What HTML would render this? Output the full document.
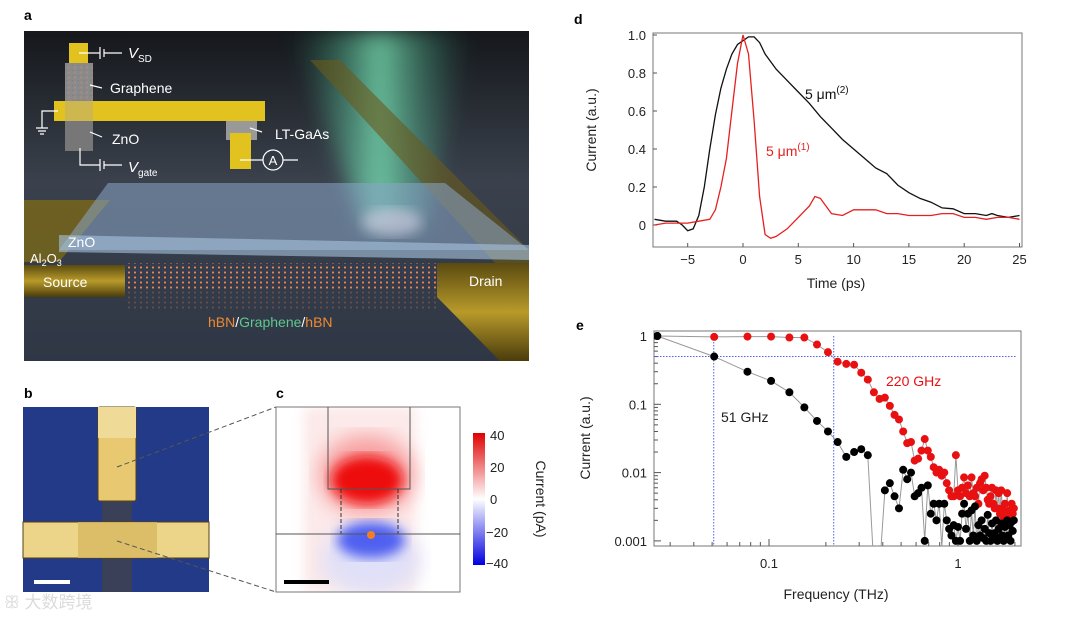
<!DOCTYPE html>
<html><head><meta charset="utf-8"><style>
html,body{margin:0;padding:0;background:#fff;}
svg{display:block;font-family:"Liberation Sans","Noto Sans CJK SC",sans-serif;}
</style></head><body>
<svg id="fig" width="1080" height="618" viewBox="0 0 1080 618" xmlns="http://www.w3.org/2000/svg">
<defs>
<linearGradient id="bgA" x1="0" y1="0" x2="0" y2="1"><stop offset="0" stop-color="#15171b"/><stop offset="0.45" stop-color="#3a414c"/><stop offset="1" stop-color="#2f3746"/></linearGradient>
<linearGradient id="beam" x1="0" y1="0" x2="1" y2="0"><stop offset="0" stop-color="#2e8a6a" stop-opacity="0"/><stop offset="0.5" stop-color="#7ff0c0" stop-opacity="0.75"/><stop offset="1" stop-color="#2e8a6a" stop-opacity="0"/></linearGradient>
<linearGradient id="gold" x1="0" y1="0" x2="0" y2="1"><stop offset="0" stop-color="#5a4a10"/><stop offset="0.5" stop-color="#b89a2a"/><stop offset="1" stop-color="#4a3c0c"/></linearGradient>
<filter id="blur6"><feGaussianBlur stdDeviation="6"/></filter>
<filter id="blur10"><feGaussianBlur stdDeviation="10"/></filter>
<filter id="blur3"><feGaussianBlur stdDeviation="3"/></filter>
<linearGradient id="cbar" x1="0" y1="0" x2="0" y2="1"><stop offset="0" stop-color="#e00000"/><stop offset="0.5" stop-color="#ffffff"/><stop offset="1" stop-color="#0000e0"/></linearGradient>
<clipPath id="clipA"><rect x="24" y="31" width="505" height="330"/></clipPath>
<clipPath id="clipC"><rect x="276" y="407" width="184" height="185"/></clipPath>
<clipPath id="clipD"><rect x="653" y="33" width="369" height="214"/></clipPath>
<clipPath id="clipE"><rect x="654" y="331" width="367" height="215"/></clipPath>
<pattern id="hex" width="6" height="5" patternUnits="userSpaceOnUse"><circle cx="3" cy="2.5" r="1.1" fill="#ff8c50"/><circle cx="0" cy="0" r="1" fill="#3040d0"/></pattern>
</defs>

<!-- Panel a -->
<g>
<text x="24" y="20" font-size="14" font-weight="bold">a</text>
<g clip-path="url(#clipA)">
<rect x="24" y="31" width="505" height="330" fill="url(#bgA)"/>
<polygon points="290,31 470,31 425,230 365,230" fill="url(#beam)" filter="url(#blur10)"/>
<polygon points="310,60 340,60 529,250 529,300" fill="#6a5a1a" opacity="0.6"/>
<polygon points="24,200 110,200 59,262 24,262" fill="#7a6818" opacity="0.8"/>
<polygon points="108,183 445,183 529,250 59,250" fill="#8aa6c8" opacity="0.55"/>
<polygon points="59,235 529,245 529,260 59,252" fill="#a8c4e0" opacity="0.6"/>
<ellipse cx="392" cy="222" rx="30" ry="14" fill="#e8d8f0" opacity="0.5" filter="url(#blur6)"/>
<rect x="24" y="265" width="101" height="32" fill="url(#gold)"/>
<polygon points="437,263 529,263 529,361 500,361 437,297" fill="url(#gold)"/>
<rect x="125" y="263" width="315" height="27" fill="url(#hex)" opacity="0.9"/>
<rect x="125" y="290" width="315" height="20" fill="url(#hex)" opacity="0.25"/>
<text x="43" y="287" font-size="14" fill="#fff">Source</text>
<text x="469" y="286" font-size="14" fill="#fff">Drain</text>
<text x="68" y="247" font-size="14" fill="#fff">ZnO</text>
<text x="30" y="263" font-size="13" fill="#fff">Al<tspan font-size="9" dy="3">2</tspan><tspan dy="-3">O</tspan><tspan font-size="9" dy="3">3</tspan></text>
<text x="208" y="327" font-size="14"><tspan fill="#f08a30">hBN</tspan><tspan fill="#fff">/</tspan><tspan fill="#5ec890">Graphene</tspan><tspan fill="#fff">/</tspan><tspan fill="#f08a30">hBN</tspan></text>
<g>
<rect x="65" y="63" width="28" height="38" fill="#8a8a8a"/>
<rect x="65" y="63" width="28" height="38" fill="url(#hex)" opacity="0.3"/>
<rect x="65" y="121" width="28" height="30" fill="#777"/>
<rect x="69" y="43" width="19" height="20" fill="#e2c21e"/>
<rect x="54" y="101" width="211" height="20" fill="#e2c21e"/>
<rect x="65" y="101" width="28" height="20" fill="#c8b45a" opacity="0.8"/>
<rect x="226" y="121" width="31" height="19" fill="#999"/>
<rect x="230" y="133" width="21" height="36" fill="#e2c21e"/>
<g stroke="#fff" stroke-width="1.2" fill="none">
<path d="M79,53 H100 M100,47 V59 M104,49 V57 M104,53 H122"/>
<path d="M58,111 H42 V128 M36,128 H48 M38,131 H46 M40,134 H44"/>
<path d="M80,148 V165 H100 M100,159 V171 M104,161 V169 M104,165 H122"/>
<path d="M240,160 H263 M283,160 H298"/>
<circle cx="273" cy="160" r="10"/>
<path d="M90,85 L102,88 M90,132 L102,137 M250,128 L262,132"/>
</g>
<text x="273" y="165" font-size="13" fill="#fff" text-anchor="middle">A</text>
<text x="128" y="58" font-size="15" fill="#fff" font-style="italic">V<tspan font-size="10" font-style="normal" dy="4">SD</tspan></text>
<text x="110" y="93" font-size="14" fill="#fff">Graphene</text>
<text x="112" y="144" font-size="14" fill="#fff">ZnO</text>
<text x="275" y="139" font-size="14" fill="#fff">LT-GaAs</text>
<text x="128" y="172" font-size="15" fill="#fff" font-style="italic">V<tspan font-size="10" font-style="normal" dy="4">gate</tspan></text>
</g>
</g>
</g>

<!-- Panel b -->
<g>
<text x="24" y="398" font-size="14" font-weight="bold">b</text>
<rect x="23" y="407" width="186" height="185" fill="#223a88"/>
<rect x="102" y="501" width="30" height="91" fill="#3a4058"/>
<rect x="98" y="407" width="38" height="94" rx="2" fill="#e8c870" stroke="#5a4010" stroke-width="1"/>
<rect x="98" y="407" width="38" height="31" fill="#f0da98"/>
<rect x="23" y="522" width="186" height="36" fill="#ecd488" stroke="#5a4010" stroke-width="1"/>
<rect x="78" y="522" width="79" height="36" fill="#d8b860" opacity="0.8"/>
<rect x="34" y="580" width="36" height="4" fill="#fff"/>
<g stroke="#555" stroke-width="1" stroke-dasharray="5,3" fill="none">
<path d="M117,467 L276,407"/><path d="M117,541 L276,592"/>
</g>
<text x="4" y="608" font-size="17" fill="#d8d8d8" opacity="0.9">ꕥ 大数跨境</text>
</g>

<!-- Panel c -->
<g>
<text x="276" y="398" font-size="14" font-weight="bold">c</text>
<rect x="276" y="407" width="184" height="185" fill="#fff"/>
<g clip-path="url(#clipC)">
<rect x="304" y="407" width="112" height="185" fill="#fbe0e0" opacity="0.7" filter="url(#blur6)"/>
<ellipse cx="367" cy="475" rx="48" ry="40" fill="#f8a0a0" filter="url(#blur10)"/>
<ellipse cx="367" cy="480" rx="36" ry="24" fill="#ee1010" filter="url(#blur6)"/>
<ellipse cx="371" cy="560" rx="50" ry="35" fill="#e0e0f8" filter="url(#blur10)"/>
<ellipse cx="371" cy="540" rx="34" ry="18" fill="#5060f0" filter="url(#blur6)"/>
</g>
<rect x="276" y="407" width="184" height="185" fill="none" stroke="#777" stroke-width="1"/>
<path d="M328,407 V489 H410 V407" fill="none" stroke="#555" stroke-width="1"/>
<path d="M341,489 V534 M398,489 V534" stroke="#333" stroke-width="1" stroke-dasharray="4,2"/>
<path d="M276,534 H460" stroke="#555" stroke-width="1"/>
<circle cx="371" cy="535" r="4" fill="#f08020"/>
<rect x="284" y="580" width="45" height="4" fill="#000"/>
<rect x="473" y="433" width="12" height="132" fill="url(#cbar)"/>
<g font-size="13" fill="#222">
<text x="490" y="440">40</text><text x="490" y="472">20</text><text x="490" y="504">0</text><text x="486" y="537">−20</text><text x="486" y="568">−40</text>
</g>
<text transform="translate(536,499) rotate(90)" font-size="14" text-anchor="middle" fill="#222">Current (pA)</text>
</g>

<g id="panelD">
<text x="574" y="24" font-size="14" font-weight="bold">d</text>
</g>
<g id="panelE">
<text x="576" y="330" font-size="14" font-weight="bold">e</text>
</g>
</svg>
<script>
const dBlackT = [-8,-7,-6,-5.5,-5,-4.5,-4,-3.5,-3,-2.5,-2,-1.5,-1,-0.5,0,0.5,1,1.5,2,3,4,5,6,7,8,9,10,11,12,13,14,15,16,17,18,19,20,21,22,22.5,23,24,25];
const dBlackV = [0.03,0.02,0.02,0,-0.03,-0.02,0.05,0.2,0.4,0.58,0.72,0.82,0.9,0.95,0.97,0.99,0.99,0.96,0.9,0.82,0.76,0.7,0.64,0.57,0.51,0.45,0.4,0.35,0.3,0.27,0.21,0.17,0.14,0.12,0.09,0.085,0.06,0.06,0.05,0.06,0.05,0.04,0.05];
const dRedT = [-8,-7,-6,-5,-4,-3,-2.5,-2,-1.5,-1,-0.5,0,0.5,1,1.5,2,2.5,3,4,5,6,6.5,7,8,9,10,11,12,13,14,15,16,17,18,19,20,21,22,23,24,25];
const dRedV = [0,0.01,0.01,0.01,0.02,0.03,0.08,0.2,0.35,0.6,0.85,1.0,0.9,0.55,0.15,-0.05,-0.07,-0.06,-0.02,0.04,0.1,0.15,0.14,0.06,0.05,0.08,0.08,0.08,0.06,0.06,0.05,0.05,0.05,0.06,0.06,0.04,0.04,0.03,0.04,0.04,0.03];
const dXTicks = [-5,0,5,10,15,20,25];
const dYTicks = [0,0.2,0.4,0.6,0.8,1.0];
const dYTickLabels = ["0","0.2","0.4","0.6","0.8","1.0"];
const eStep = 0.02564;
const eBlack = [1,0.5,0.3,0.22,0.15,0.09,0.057,0.04,0.028,0.017,0.02,0.022,0.018,0.0004,0.0004,0.0055,0.007,0.0045,0.003,0.011,0.008,0.01,0.0045,0.005,0.006,0.001,0.0065,0.0025,0.0035,0.002,0.0035,0.0008,0.0035,0.002,0.0015,0.0012,0.0017,0.001,0.0016,0.001,0.0025,0.0035,0.0015,0.0025,0.001,0.0028,0.0012,0.0032,0.001,0.0017,0.0012,0.002,0.0011,0.0015,0.001,0.0024,0.0013,0.001,0.0018,0.0011,0.0013,0.002,0.001,0.0015,0.0011,0.0018,0.0012,0.001,0.0016,0.0011,0.002,0.0012,0.0017,0.001,0.0019,0.0014,0.002];
const eRed = [1,0.97,0.98,0.98,0.95,0.95,0.75,0.58,0.42,0.39,0.38,0.29,0.23,0.15,0.12,0.125,0.095,0.07,0.06,0.04,0.027,0.028,0.015,0.016,0.021,0.031,0.021,0.017,0.012,0.01,0.011,0.009,0.01,0.007,0.0055,0.0045,0.0045,0.018,0.0055,0.0045,0.006,0.0085,0.005,0.0065,0.0045,0.0085,0.005,0.0045,0.006,0.0035,0.007,0.008,0.0055,0.009,0.006,0.004,0.0035,0.0045,0.006,0.0035,0.003,0.0055,0.003,0.005,0.0025,0.0055,0.003,0.0022,0.0035,0.0025,0.005,0.002,0.0028,0.0022,0.0035,0.0025,0.003];
const eYTicks = [1,0.1,0.01,0.001];
const eYTickLabels = ["1","0.1","0.01","0.001"];
const eXTicks = [0.1,1];
const eXTickLabels = ["0.1","1"];
const eCutoffs = [0.051,0.22];
const eHalf = 0.5;

const NS = "http://www.w3.org/2000/svg";
function mk(parent, tag, attrs, text){const e=document.createElementNS(NS,tag);for(const k in attrs)e.setAttribute(k,attrs[k]);if(text!==undefined)e.textContent=text;parent.appendChild(e);return e;}

const dX = t => 743 + (t - 0) * 11.06;
const dY = v => 225 - v * 190;
const gD = document.getElementById('panelD');
const dFrame = mk(gD,'rect',{x:653,y:33,width:369,height:214,fill:'none',stroke:'#777','stroke-width':1});


dXTicks.forEach(t=>{
  mk(gD,'line',{x1:dX(t),x2:dX(t),y1:247,y2:243,stroke:'#555'});
  const tx = mk(gD,'text',{x:dX(t),y:264,'font-size':13,'text-anchor':'middle',fill:'#222'}, t<0?'−'+Math.abs(t):String(t));
  
  
});
dYTicks.forEach((v,i)=>{
  mk(gD,'line',{x1:653,x2:657,y1:dY(v),y2:dY(v),stroke:'#555'});
  const tx = mk(gD,'text',{x:646,y:dY(v)+5,'font-size':13,'text-anchor':'end',fill:'#222'}, dYTickLabels[i]);
  
  
});
const dXT = mk(gD,'text',{x:836,y:288,'font-size':14,'text-anchor':'middle',fill:'#222'},'Time (ps)');


const dYT = mk(gD,'text',{transform:'translate(596,130) rotate(-90)','font-size':14,'text-anchor':'middle',fill:'#222'},'Current (a.u.)');


function linePath(xs,ys,fx,fy){return xs.map((x,i)=>(i?'L':'M')+fx(x).toFixed(1)+','+fy(ys[i]).toFixed(1)).join(' ');}
const dBlack = mk(gD,'path',{d:linePath(dBlackT,dBlackV,dX,dY),fill:'none',stroke:'#111','stroke-width':1.3,'clip-path':'url(#clipD)'});


const dRed = mk(gD,'path',{d:linePath(dRedT,dRedV,dX,dY),fill:'none',stroke:'#e62020','stroke-width':1.3,'clip-path':'url(#clipD)'});


const l2 = mk(gD,'text',{x:805,y:99,'font-size':14,fill:'#111'});
l2.innerHTML = '5 μm<tspan font-size="10" dy="-6">(2)</tspan>';


const l1 = mk(gD,'text',{x:766,y:156,'font-size':14,fill:'#e62020'});
l1.innerHTML = '5 μm<tspan font-size="10" dy="-6">(1)</tspan>';



const eX = f => 958 + Math.log10(f) * 189;
const eY = v => 336 - (Math.log10(v)) * 68.3;
const gE = document.getElementById('panelE');
const eFrame = mk(gE,'rect',{x:654,y:331,width:367,height:215,fill:'none',stroke:'#777','stroke-width':1});


for (let d=-2; d<=0; d++) for (let m=1; m<10; m++){
  const f = m*Math.pow(10,d); const x=eX(f);
  if (x<655||x>1020) continue;
  mk(gE,'line',{x1:x,x2:x,y1:546,y2:m===1?539:542,stroke:'#555'});
}
for (let d=-3; d<0; d++) for (let m=1; m<10; m++){
  const v = m*Math.pow(10,d); const y=eY(v);
  mk(gE,'line',{x1:654,x2:m===1?661:658,y1:y,y2:y,stroke:'#555'});
}
mk(gE,'line',{x1:654,x2:661,y1:eY(1),y2:eY(1),stroke:'#555'});
eYTicks.forEach((v,i)=>{
  const tx = mk(gE,'text',{x:647,y:eY(v)+5,'font-size':13,'text-anchor':'end',fill:'#222'},eYTickLabels[i]);
  
  
});
eXTicks.forEach((f,i)=>{
  const tx = mk(gE,'text',{x:eX(f),y:568,'font-size':13,'text-anchor':'middle',fill:'#222'},eXTickLabels[i]);
  
  
});
const eXT = mk(gE,'text',{x:836,y:599,'font-size':14,'text-anchor':'middle',fill:'#222'},'Frequency (THz)');


const eYT = mk(gE,'text',{transform:'translate(590,438) rotate(-90)','font-size':14,'text-anchor':'middle',fill:'#222'},'Current (a.u.)');


const hLine = mk(gE,'line',{x1:654,x2:1016,y1:eY(eHalf),y2:eY(eHalf),stroke:'#5060f0','stroke-width':1,'stroke-dasharray':'1.5,1.5'});


eCutoffs.forEach(f=>{
  const v = mk(gE,'line',{x1:eX(f),x2:eX(f),y1:eY(1),y2:546,stroke:'#5060f0','stroke-width':1,'stroke-dasharray':'1.5,1.5'});
  
  
});
const eFreqB = eBlack.map((_,i)=>(i+1)*eStep);
const eFreqR = eRed.map((_,i)=>(i+1)*eStep);
const gClip = mk(gE,'g',{'clip-path':'url(#clipE)'});
const bl = mk(gClip,'path',{d:linePath(eFreqB,eBlack,eX,eY),fill:'none',stroke:'#999','stroke-width':1});


const rl = mk(gClip,'path',{d:linePath(eFreqR,eRed,eX,eY),fill:'none',stroke:'#999','stroke-width':1});


eRed.forEach((v,i)=>{
  if (v<0.001) return;
  const c = mk(gClip,'circle',{cx:eX(eFreqR[i]),cy:eY(v),r:4,fill:'#e81010'});
  
  
});
eBlack.forEach((v,i)=>{
  if (v<0.001) return;
  const c = mk(gClip,'circle',{cx:eX(eFreqB[i]),cy:eY(v),r:4,fill:'#000'});
  
  
});
const t220 = mk(gE,'text',{x:886,y:386,'font-size':14,fill:'#e81010'},'220 GHz');


const t51 = mk(gE,'text',{x:721,y:422,'font-size':14,fill:'#222'},'51 GHz');


</script>
</body></html>
